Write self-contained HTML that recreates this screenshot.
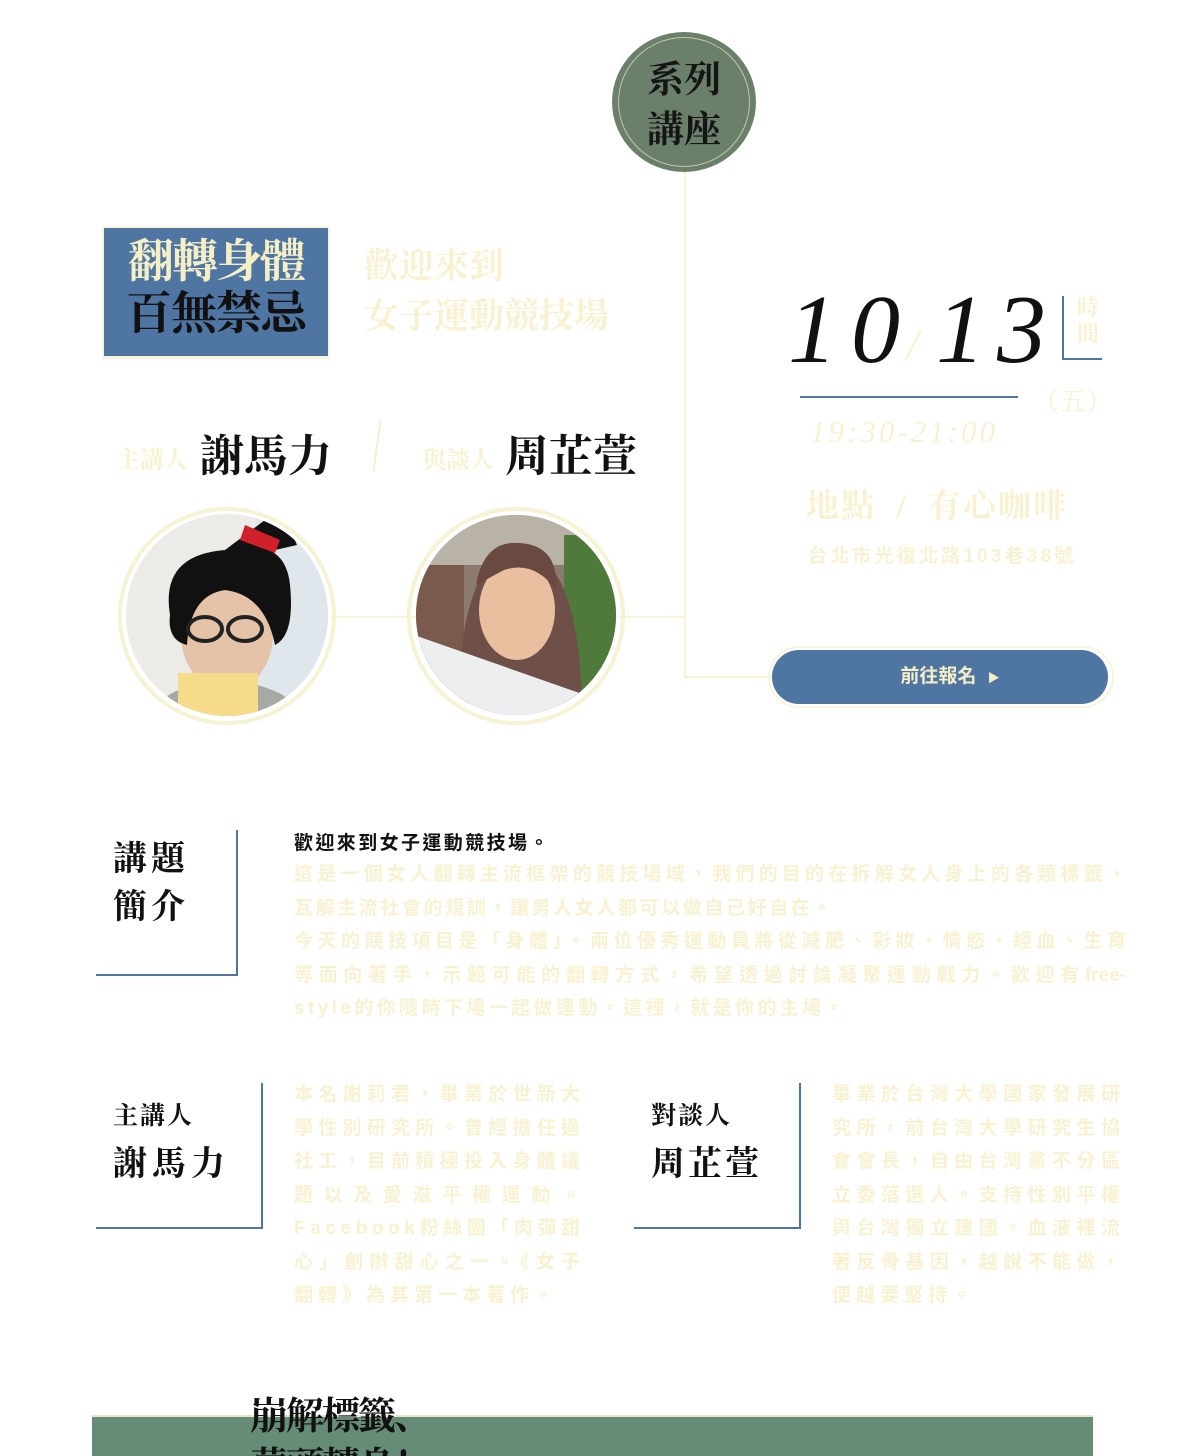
<!DOCTYPE html>
<html style="width:1200px;height:1456px;overflow:hidden"><head><meta charset="utf-8">
<style>
*{margin:0;padding:0;box-sizing:border-box}
body{width:1200px;height:1456px;background:#fff;position:relative;overflow:hidden;font-family:"Liberation Serif","Noto Serif CJK SC","Noto Sans CJK TC",serif}
.a{position:absolute}
.cream{color:#f8f2d2}
.sans{font-family:"Liberation Sans","Noto Sans CJK TC",sans-serif}
.ln{position:absolute;background:#f7f2d8}
.body19{font-family:"Liberation Sans","Noto Sans CJK TC",sans-serif;font-size:19px;font-weight:bold;color:#f8f2d2;line-height:33.5px}
.j{display:block;text-align:justify;text-align-last:justify;white-space:nowrap}
</style></head><body>

<div class="ln" style="left:684px;top:168px;width:2px;height:510px"></div>
<div class="ln" style="left:684px;top:676px;width:90px;height:2px"></div>
<div class="ln" style="left:330px;top:616px;width:86px;height:2px"></div>
<div class="ln" style="left:618px;top:616px;width:68px;height:2px"></div>

<div class="a" style="left:612px;top:32px;width:144px;height:140px;border-radius:50%;background:#6b806a;"></div>
<div class="a" style="left:618px;top:37px;width:132px;height:130px;border-radius:50%;border:1px solid #e9e6c4;opacity:.7"></div>
<div class="a" style="left:612px;top:56px;width:144px;text-align:center;font-size:37px;line-height:50px;font-weight:bold;color:#151515">系列<br>講座</div>

<div class="a" style="left:102px;top:226px;width:228px;height:133px;background:#f8f4dc"></div>
<div class="a" style="left:104px;top:228px;width:224px;height:128px;background:#4f76a3"></div>
<div class="a" style="left:104px;top:236px;width:224px;text-align:center;font-size:46px;line-height:52px;font-weight:bold;color:#f6efc6;letter-spacing:-2px">翻轉身體</div>
<div class="a" style="left:104px;top:288px;width:224px;text-align:center;font-size:46px;line-height:52px;font-weight:bold;color:#111;letter-spacing:-1px">百無禁忌</div>
<div class="a cream" style="left:364px;top:242px;font-size:35px;line-height:50px;font-weight:bold;">歡迎來到<br>女子運動競技場</div>

<div class="a cream" style="left:116px;top:440px;font-size:24px;font-weight:bold">主講人</div>
<div class="a" style="left:200px;top:420px;font-size:44px;font-weight:bold;color:#111">謝馬力</div>
<div class="a" style="left:376px;top:420px;width:2px;height:52px;background:#f3efd4;transform:rotate(8deg)"></div>
<div class="a cream" style="left:422px;top:440px;font-size:24px;font-weight:bold">與談人</div>
<div class="a" style="left:505px;top:420px;font-size:44px;font-weight:bold;color:#111">周芷萱</div>

<svg class="a" style="left:115px;top:505px" width="224" height="222" viewBox="0 0 224 222">
<defs><clipPath id="c1"><circle cx="112" cy="110" r="101"/></clipPath></defs>
<circle cx="112" cy="111" r="107" fill="none" stroke="#f6f2d4" stroke-width="4"/>
<g clip-path="url(#c1)">
<rect width="224" height="222" fill="#ecebe8"/>
<rect x="140" y="0" width="84" height="222" fill="#dfe6ec"/>
<path d="M30 222 Q40 180 110 175 Q180 180 195 222Z" fill="#a8a8a4"/>
<ellipse cx="112" cy="130" rx="46" ry="56" fill="#e5c3a8"/>
<path d="M55 110 Q45 50 110 45 Q170 30 175 80 Q180 130 160 140 Q150 90 110 85 Q75 90 72 140 Q52 135 55 110Z" fill="#111"/>
<path d="M110 45 L150 15 Q170 10 182 40 L160 45Z" fill="#111"/>
<path d="M130 20 L165 35 L160 48 L125 35Z" fill="#d0202c"/>
<ellipse cx="90" cy="124" rx="17" ry="12" fill="none" stroke="#222" stroke-width="4"/>
<ellipse cx="130" cy="124" rx="17" ry="12" fill="none" stroke="#222" stroke-width="4"/>
<rect x="63" y="168" width="80" height="60" fill="#f6dc8a"/>
</g></svg>
<svg class="a" style="left:404px;top:505px" width="224" height="222" viewBox="0 0 224 222">
<defs><clipPath id="c2"><circle cx="112" cy="110" r="100"/></clipPath></defs>
<circle cx="112" cy="111" r="107" fill="none" stroke="#f6f2d4" stroke-width="4"/>
<g clip-path="url(#c2)">
<rect width="224" height="222" fill="#8c7a6c"/>
<rect x="0" y="0" width="224" height="60" fill="#b9b2a6"/>
<rect x="160" y="30" width="64" height="170" fill="#4f7a3c"/>
<rect x="0" y="60" width="60" height="120" fill="#7a5a4c"/>
<path d="M55 200 Q55 60 112 40 Q175 50 178 200Z" fill="#6e5048"/>
<ellipse cx="113" cy="105" rx="38" ry="50" fill="#e9bfa0"/>
<path d="M72 80 Q80 35 115 38 Q155 40 152 85 Q130 55 100 65Z" fill="#6a4a40"/>
<path d="M10 130 L224 205 L224 222 L0 222 L0 140Z" fill="#eceef0"/>
</g></svg>

<div class="a" style="left:788px;top:270px;font-size:98px;font-style:italic;color:#111;letter-spacing:14px;line-height:120px">10</div>
<div class="a cream" style="left:906px;top:318px;font-size:46px;font-style:italic">/</div>
<div class="a" style="left:936px;top:270px;font-size:98px;font-style:italic;color:#111;letter-spacing:12px;line-height:120px">13</div>
<div class="a" style="left:1062px;top:296px;width:2px;height:64px;background:#4f76a3"></div>
<div class="a" style="left:1062px;top:358px;width:40px;height:2px;background:#4f76a3"></div>
<div class="a cream" style="left:1077px;top:295px;font-size:22px;line-height:26px;font-weight:bold">時<br>間</div>
<div class="a" style="left:800px;top:396px;width:218px;height:2px;background:#4f76a3"></div>
<div class="a cream" style="left:1032px;top:380px;font-size:27px">（五）</div>
<div class="a cream" style="left:810px;top:414px;font-size:31px;font-style:italic;letter-spacing:3px">19:30-21:00</div>
<div class="a cream" style="left:806px;top:480px;font-size:33px;font-weight:bold;letter-spacing:2px">地點 &nbsp;/&nbsp; 有心咖啡</div>
<div class="a cream sans" style="left:808px;top:541px;font-size:19px;font-weight:bold;letter-spacing:3.2px">台北市光復北路103巷38號</div>

<div class="a" style="left:768px;top:646px;width:346px;height:62px;border-radius:31px;border:2px solid #f8f4de"></div>
<div class="a sans" style="left:772px;top:650px;width:336px;height:54px;border-radius:27px;background:#4f76a3;color:#f6efc6;font-size:19px;font-weight:bold;line-height:54px;text-align:center;padding-left:20px">前往報名 <span style="font-size:12px;margin-left:6px">▶</span></div>

<div class="a" style="left:236px;top:830px;width:2px;height:146px;background:#4f76a3"></div>
<div class="a" style="left:96px;top:974px;width:142px;height:2px;background:#4f76a3"></div>
<div class="a" style="left:113px;top:836px;font-size:34px;line-height:48px;font-weight:bold;color:#111;letter-spacing:4px">講題<br>簡介</div>
<div class="a sans" style="left:294px;top:828px;font-size:19px;font-weight:bold;color:#111;letter-spacing:2.4px">歡迎來到女子運動競技場。</div>
<div class="a body19" style="left:294px;top:858px;width:832px">
<span class="j">這是一個女人翻轉主流框架的競技場域，我們的目的在拆解女人身上的各類標籤、</span>
<span style="display:block;letter-spacing:2.6px">瓦解主流社會的規訓，讓男人女人都可以做自己好自在。</span>
<span class="j">今天的競技項目是「身體」。兩位優秀運動員將從減肥、彩妝、情慾、經血、生育</span>
<span class="j">等面向著手，示範可能的翻轉方式，希望透過討論凝聚運動戰力。歡迎有free-</span>
<span style="display:block;letter-spacing:3.4px">style的你隨時下場一起做運動。這裡，就是你的主場。</span>
</div>

<div class="a" style="left:261px;top:1083px;width:2px;height:146px;background:#4f76a3"></div>
<div class="a" style="left:96px;top:1227px;width:167px;height:2px;background:#4f76a3"></div>
<div class="a" style="left:113px;top:1096px;font-size:25px;font-weight:bold;color:#111;letter-spacing:2px">主講人</div>
<div class="a" style="left:113px;top:1136px;font-size:34px;font-weight:bold;color:#111;letter-spacing:5px">謝馬力</div>
<div class="a body19" style="left:294px;top:1078px;width:286px">
<span class="j">本名謝莉君，畢業於世新大</span>
<span class="j">學性別研究所。曾經擔任過</span>
<span class="j">社工，目前積極投入身體議</span>
<span class="j">題以及愛滋平權運動。</span>
<span style="display:block;letter-spacing:4.6px;white-space:nowrap">Facebook粉絲團「肉彈甜</span>
<span class="j">心」創辦甜心之一。《女子</span>
<span style="display:block;letter-spacing:5px">翻轉》為其第一本著作。</span>
</div>

<div class="a" style="left:799px;top:1083px;width:2px;height:146px;background:#4f76a3"></div>
<div class="a" style="left:634px;top:1227px;width:167px;height:2px;background:#4f76a3"></div>
<div class="a" style="left:651px;top:1096px;font-size:25px;font-weight:bold;color:#111;letter-spacing:2px">對談人</div>
<div class="a" style="left:651px;top:1136px;font-size:34px;font-weight:bold;color:#111;letter-spacing:3px">周芷萱</div>
<div class="a body19" style="left:832px;top:1078px;width:288px">
<span class="j">畢業於台灣大學國家發展研</span>
<span class="j">究所，前台灣大學研究生協</span>
<span class="j">會會長，自由台灣黨不分區</span>
<span class="j">立委落選人。支持性別平權</span>
<span class="j">與台灣獨立建國。血液裡流</span>
<span class="j">著反骨基因，越說不能做，</span>
<span style="display:block;letter-spacing:5px">便越要堅持。</span>
</div>

<div class="a" style="left:92px;top:1415px;width:1001px;height:41px;background:#668c78;border-top:2px solid #e8e6c8"></div>
<div class="a" style="left:250px;top:1392px;font-size:38px;line-height:50px;font-weight:bold;color:#111;letter-spacing:-2px">崩解標籤、<br>蒙頭轉身！</div>
</body></html>
